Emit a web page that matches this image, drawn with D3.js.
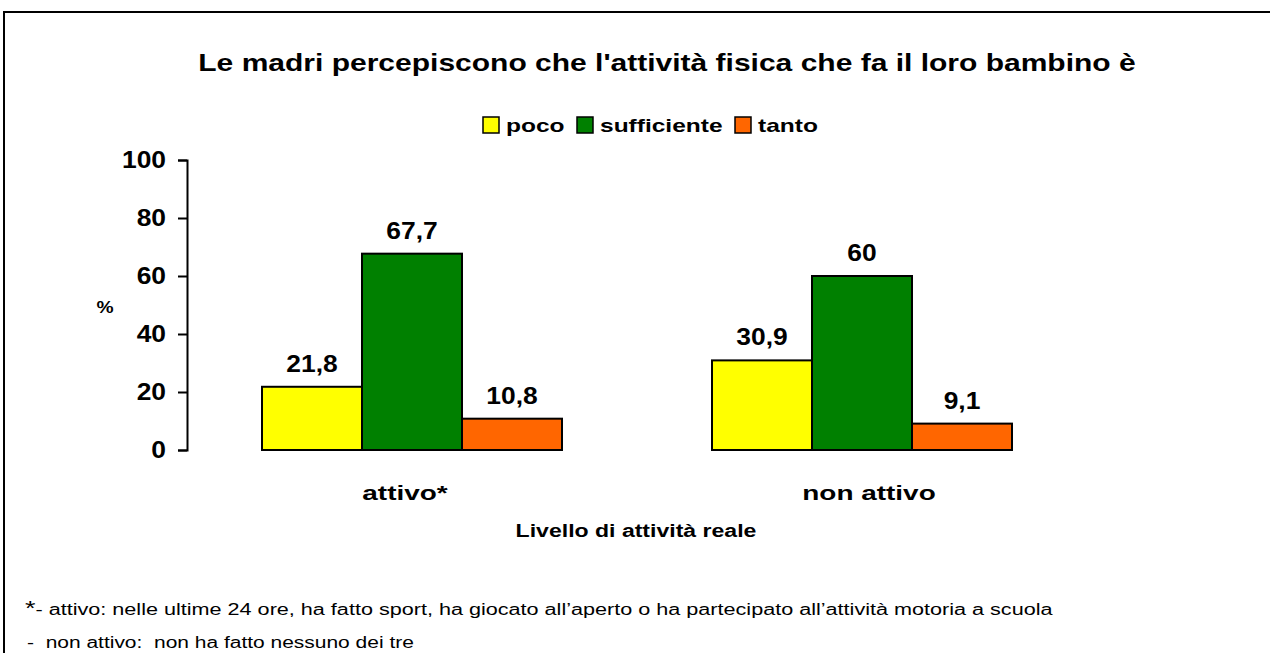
<!DOCTYPE html>
<meta charset="utf-8">
<script src="https://d3js.org/d3.v7.min.js"></script>
<style>
  body { margin: 0; background: #fff; }
  text { font-family: "Liberation Sans", Arial, sans-serif; fill: #000; }
</style>
<div id="my_dataviz"></div>
<script>
  // data
  var categories = ["attivo*", "non attivo"];
  var series = ["poco", "sufficiente", "tanto"];
  var colors = ["#ffff00", "#008000", "#ff6600"];
  var poco = [21.8, 30.9];
  var sufficiente = [67.7, 60];
  var tanto = [10.8, 9.1];
  var yTicks = [0, 20, 40, 60, 80, 100];

  var values = [poco, sufficiente, tanto];
  var data = [];
  categories.forEach(function(c, i) {
    series.forEach(function(s, j) {
      data.push({cat: c, serie: s, value: values[j][i], color: colors[j]});
    });
  });

  var width = 1270, height = 653;

  // the original text is drawn a bit wider than Arial, stretch it horizontally
  function stretch(sel, k) {
    sel.each(function() {
      var len = this.getComputedTextLength();
      d3.select(this)
        .attr("textLength", len * k)
        .attr("lengthAdjust", "spacingAndGlyphs");
    });
  }

  var svg = d3.select("#my_dataviz")
    .append("svg")
      .attr("width", width)
      .attr("height", height);

  // frame
  svg.append("rect")
    .attr("x", 4).attr("y", 12)
    .attr("width", 1300).attr("height", 700)
    .attr("fill", "none")
    .attr("stroke", "#000")
    .attr("stroke-width", 2);

  // title
  svg.append("text")
    .attr("x", 667).attr("y", 71)
    .attr("text-anchor", "middle")
    .style("font-size", "24px")
    .style("font-weight", "bold")
    .text("Le madri percepiscono che l'attività fisica che fa il loro bambino è")
    .call(stretch, 1.25);

  // legend
  var legendX = [483, 577, 735];
  var legend = svg.append("g").selectAll("g")
    .data(series)
    .enter().append("g")
      .attr("transform", function(d, i) { return "translate(" + legendX[i] + ",117)"; });
  legend.append("rect")
    .attr("width", 16).attr("height", 16)
    .attr("fill", function(d, i) { return colors[i]; })
    .attr("stroke", "#000").attr("stroke-width", 1.5);
  legend.append("text")
    .attr("x", 23).attr("y", 15)
    .style("font-size", "19px")
    .style("font-weight", "bold")
    .text(function(d) { return d; })
    .call(stretch, 1.29);

  // scales
  var x0 = d3.scaleBand().domain(categories).range([187, 1087]);
  var x1 = d3.scaleBand().domain(series).range([75, 375]);
  var y = d3.scaleLinear().domain([0, 100]).range([450, 160]);

  // y axis
  var yAxis = svg.append("g")
    .attr("transform", "translate(187,0)")
    .call(d3.axisLeft(y).tickValues(yTicks).tickSize(9).tickPadding(12));
  yAxis.selectAll("line, path").attr("stroke", "#000").attr("stroke-width", 2);
  yAxis.selectAll("text")
    .style("font-size", "24px")
    .style("font-weight", "bold")
    .style("font-family", "'Liberation Sans', Arial, sans-serif")
    .call(stretch, 1.1);

  svg.append("text")
    .attr("x", 105).attr("y", 313)
    .attr("text-anchor", "middle")
    .style("font-size", "16px")
    .style("font-weight", "bold")
    .text("%")
    .call(stretch, 1.2);

  // bars
  svg.append("g").selectAll("rect")
    .data(data)
    .enter().append("rect")
      .attr("x", function(d) { return x0(d.cat) + x1(d.serie); })
      .attr("y", function(d) { return y(d.value); })
      .attr("width", x1.bandwidth())
      .attr("height", function(d) { return y(0) - y(d.value); })
      .attr("fill", function(d) { return d.color; })
      .attr("stroke", "#000")
      .attr("stroke-width", 2);

  // value labels
  svg.append("g").selectAll("text")
    .data(data)
    .enter().append("text")
      .attr("x", function(d) { return x0(d.cat) + x1(d.serie) + x1.bandwidth() / 2; })
      .attr("y", function(d) { return y(d.value) - 15; })
      .attr("text-anchor", "middle")
      .style("font-size", "24px")
      .style("font-weight", "bold")
      .text(function(d) { return String(d.value).replace(".", ","); })
      .call(stretch, 1.1);

  // category labels
  var catX = [405, 869];
  svg.append("g").selectAll("text")
    .data(categories)
    .enter().append("text")
      .attr("x", function(d, i) { return catX[i]; })
      .attr("y", 500)
      .attr("text-anchor", "middle")
      .style("font-size", "21px")
      .style("font-weight", "bold")
      .text(function(d) { return d; })
      .call(stretch, 1.33);

  svg.append("text")
    .attr("x", 636).attr("y", 537)
    .attr("text-anchor", "middle")
    .style("font-size", "18px")
    .style("font-weight", "bold")
    .text("Livello di attività reale")
    .call(stretch, 1.28);

  // footnotes
  var note1 = svg.append("text")
    .attr("x", 25).attr("y", 615)
    .style("font-size", "16px");
  note1.append("tspan").style("font-size", "20px").text("*");
  note1.append("tspan").text("- attivo: nelle ultime 24 ore, ha fatto sport, ha giocato all’aperto o ha partecipato all’attività motoria a scuola");
  stretch(note1, 1.35);

  svg.append("text")
    .attr("x", 27).attr("y", 648)
    .style("font-size", "16px")
    .style("white-space", "pre")
    .text("-  non attivo:  non ha fatto nessuno dei tre")
    .call(stretch, 1.31);
</script>
